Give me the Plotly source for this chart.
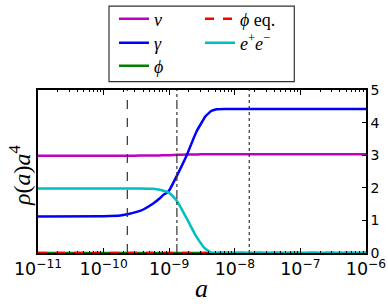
import plotly.graph_objects as go

# scale factor a
a_vals = [1e-11, 1e-10, 1.8e-10, 2.3e-10, 3.6e-10, 5.7e-10, 7.2e-10, 8.1e-10, 9.7e-10,
          1.3e-9, 1.85e-9, 2.6e-9, 3.3e-9, 3.5e-9, 4.2e-9, 4.4e-9, 5.3e-9, 7e-9,
          1e-8, 1e-7, 1e-6]
nu_vals = [2.98, 2.98, 2.98, 2.98, 2.99, 2.99, 2.99, 3.0, 3.0,
           3.01, 3.02, 3.02, 3.03, 3.03, 3.03, 3.03, 3.03, 3.03,
           3.03, 3.03, 3.03]
gamma_vals = [1.12, 1.13, 1.15, 1.19, 1.29, 1.52, 1.68, 1.78, 1.88,
              2.36, 3.0, 3.72, 4.08, 4.17, 4.33, 4.36, 4.41, 4.42,
              4.42, 4.42, 4.42]
phi_vals = [0.0] * len(a_vals)
phi_eq_vals = [0.0] * len(a_vals)
ee_vals = [1.98, 1.98, 1.98, 1.98, 1.98, 1.97, 1.94, 1.91, 1.86,
           1.6, 1.06, 0.5, 0.2, 0.14, 0.03, 0.0, 0.0, 0.0,
           0.0, 0.0, 0.0]

vlines = [2.3e-10, 1.31e-9, 1.66e-8]
vline_dash = ["dash", "dashdot", "dot"]
y_ticks = [0, 1, 2, 3, 4, 5]

serif = "Liberation Serif"
fig = go.Figure()

# legend slots: (column x px, row center y px)
legend_pos = {
    "legend": (114, 19),
    "legend2": (114, 43),
    "legend3": (114, 66),
    "legend4": (200, 19),
    "legend5": (200, 43),
}

def add(name, y, color, legend, dash="solid"):
    fig.add_trace(go.Scatter(x=a_vals, y=y, mode="lines", name=name,
                             line=dict(color=color, width=2.5, dash=dash, shape="spline", smoothing=0.6),
                             legend=legend))

add("<i>ν</i>", nu_vals, "#bf00bf", "legend")
add("<i>γ</i>", gamma_vals, "#0000ff", "legend2")
add("<i>ϕ</i>", phi_vals, "#008000", "legend3")
add("<i>ϕ</i> eq.", phi_eq_vals, "#ff0000", "legend4", dash="dash")
add("<i>e</i><sup>+</sup><i>e</i><sup>−</sup>", ee_vals, "#00bfbf", "legend5")

for v, d in zip(vlines, vline_dash):
    fig.add_trace(go.Scatter(x=[v, v], y=[0, 5], mode="lines", showlegend=False,
                             line=dict(color="#333333", width=1.2, dash=d)))

fig.add_shape(type="rect", xref="paper", yref="paper",
              x0=0.2165, x1=0.7814, y0=1.051, y1=1.515,
              line=dict(color="#333333", width=1.2), fillcolor="rgba(0,0,0,0)")

leg_layout = {}
for key, (px, py) in legend_pos.items():
    leg_layout[key] = dict(bgcolor="rgba(0,0,0,0)", borderwidth=0, yanchor="middle", xanchor="left",
                           x=(px - 38) / 328, y=(253 - py) / 163,
                           font=dict(family=serif, size=18, color="black"), itemwidth=30)
fig.update_layout(**leg_layout)

fig.add_annotation(text="<i>a</i>", xref="paper", yref="paper", x=(201 - 38) / 328,
                   y=(253 - 288) / 163, showarrow=False, font=dict(family=serif, size=26, color="black"),
                   xanchor="center", yanchor="middle")
fig.add_annotation(text="<i>ρ</i>(<i>a</i>)<i>a</i><sup>4</sup>", xref="paper", yref="paper",
                   x=(20 - 38) / 328, y=(253 - 175) / 163, textangle=-90, showarrow=False,
                   font=dict(family=serif, size=24, color="black"), xanchor="center", yanchor="middle")

fig.update_layout(
    width=388, height=308,
    margin=dict(l=38, r=22, t=90, b=55, autoexpand=False),
    paper_bgcolor="white", plot_bgcolor="white",
    xaxis=dict(type="log", range=[-11, -6], dtick=1, exponentformat="power",
               showgrid=False, zeroline=False, showline=True, linecolor="black", linewidth=1.5,
               mirror="allticks", ticks="inside", ticklen=5, tickcolor="black",
               minor=dict(ticks="inside", ticklen=2.5, tickcolor="black", showgrid=False),
               tickfont=dict(family="DejaVu Sans", size=14, color="black")),
    yaxis=dict(range=[0, 5], tickvals=y_ticks, side="right",
               showgrid=False, zeroline=False, showline=True, linecolor="black", linewidth=1.5,
               mirror=True, ticks="inside", ticklen=4, tickcolor="black",
               tickfont=dict(family="DejaVu Sans", size=14, color="black")),
)

fig.write_html("out.html", config={"displayModeBar": False},
               post_script="document.body.style.margin='0';document.body.style.overflow='hidden';")
